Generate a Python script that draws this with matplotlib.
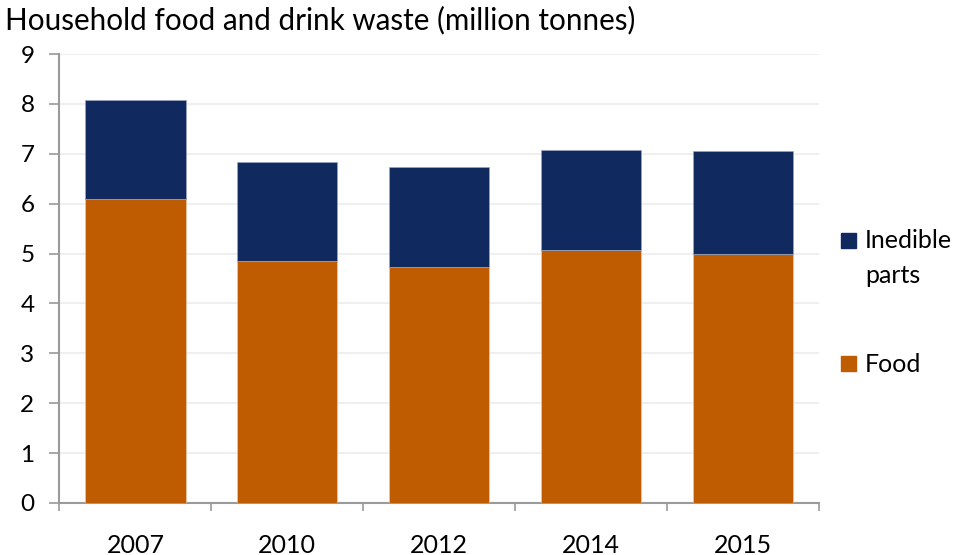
import matplotlib.pyplot as plt
from matplotlib.patches import Rectangle

plt.rcParams['font.family'] = ['Lato', 'DejaVu Sans']

years = ['2007', '2010', '2012', '2014', '2015']
food = [6.10, 4.86, 4.73, 5.07, 4.99]
inedible = [1.98, 1.98, 2.01, 2.00, 2.06]

navy = '#102a5f'
orange = '#bf5b00'
axis_grey = '#9a9a9a'

fig = plt.figure(figsize=(9.61, 5.55), dpi=100)
ax = fig.add_axes([0.0619, 0.0937, 0.790, 0.809])

x = range(len(years))
ax.bar(x, food, width=0.66, color=orange, edgecolor='#e8c9a8', linewidth=0.5, zorder=3)
ax.bar(x, inedible, bottom=food, width=0.66, color=navy, edgecolor='#9aa6c0', linewidth=0.5, zorder=3)

ax.set_xlim(-0.5, len(years) - 0.5)
ax.set_ylim(0, 9)
ax.set_yticks(range(10))
ax.tick_params(axis='y', labelsize=17.5, length=7, width=1.2, color=axis_grey, pad=11)

# year labels centred under bars, tick marks on category boundaries
ax.set_xticks([i - 0.5 for i in range(len(years) + 1)])
ax.set_xticklabels([])
ax.set_xticks(list(x), minor=True)
ax.set_xticklabels(years, minor=True, fontsize=18)
ax.tick_params(axis='x', which='major', length=6, width=1.2, color=axis_grey)
ax.tick_params(axis='x', which='minor', length=0, pad=22)

ax.grid(axis='y', color='#efefef', linewidth=1.5, zorder=0)
for s in ['top', 'right']:
    ax.spines[s].set_visible(False)
for s in ['left', 'bottom']:
    ax.spines[s].set_color(axis_grey)
    ax.spines[s].set_linewidth(1.5)

fig.text(0.005, 0.963, 'Household food and drink waste (million tonnes)',
         fontsize=21.3, va='center', ha='left')

# legend
fig.patches.append(Rectangle((0.875, 0.554), 0.0156, 0.027, transform=fig.transFigure, color=navy))
fig.patches.append(Rectangle((0.875, 0.3315), 0.0156, 0.027, transform=fig.transFigure, color=orange))
fig.text(0.900, 0.5526, 'Inedible', fontsize=18, va='baseline', ha='left')
fig.text(0.900, 0.4895, 'parts', fontsize=18, va='baseline', ha='left')
fig.text(0.900, 0.3303, 'Food', fontsize=18, va='baseline', ha='left')

fig.savefig('out.png', dpi=100)
